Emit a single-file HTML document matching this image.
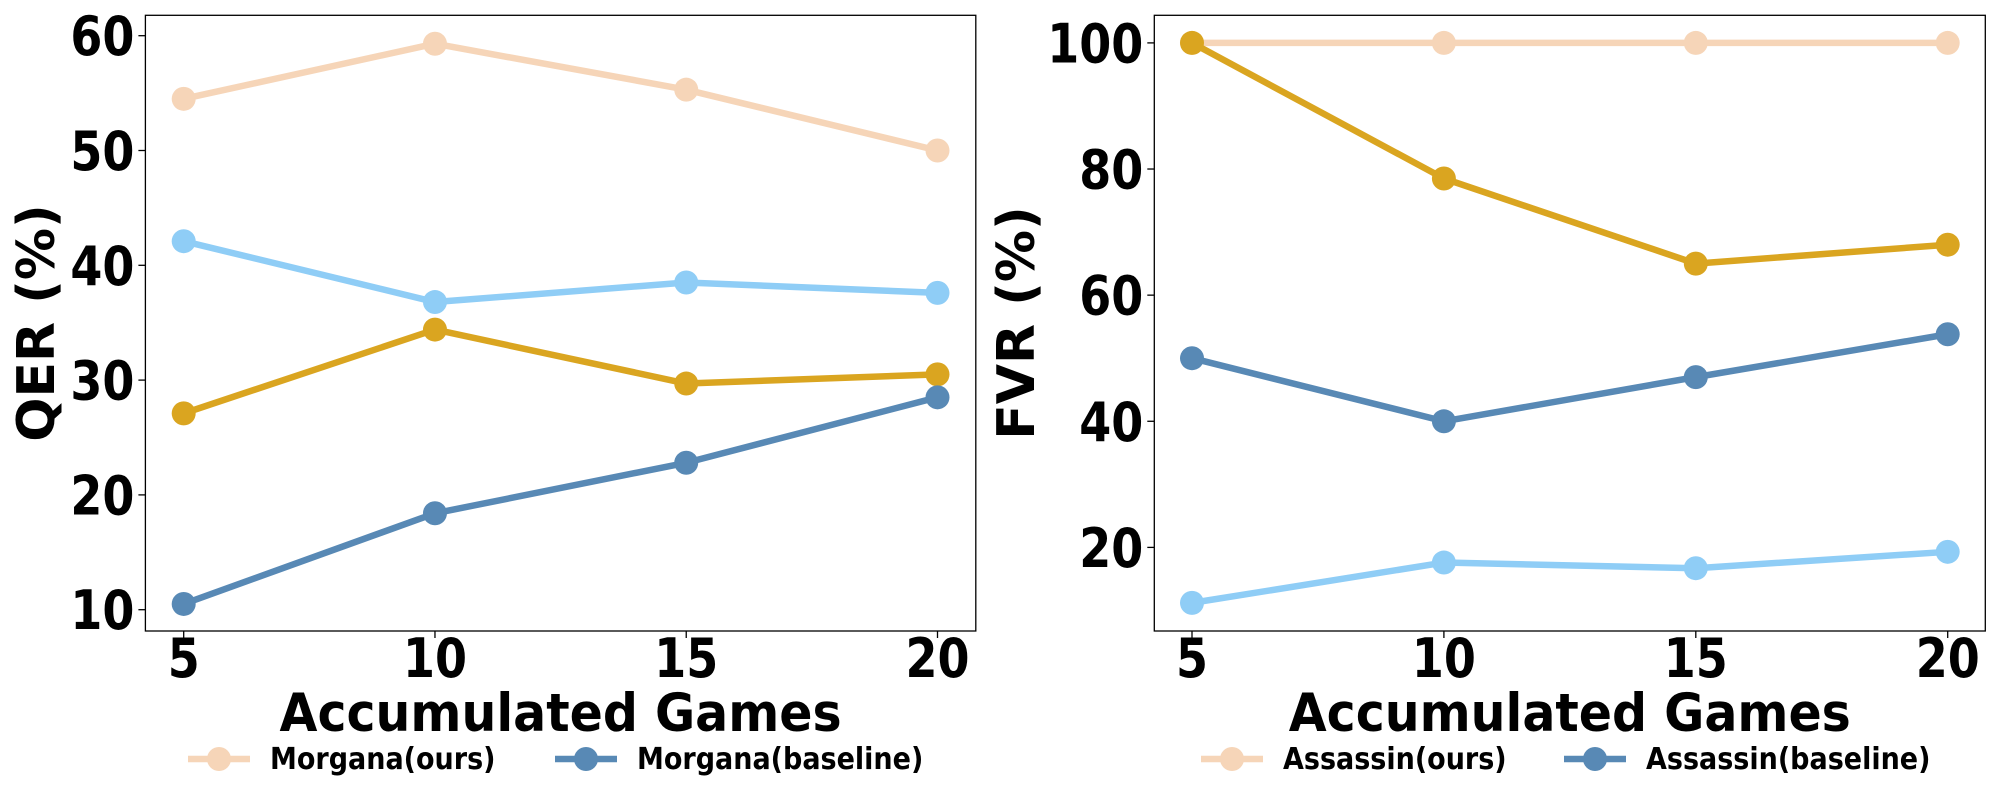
<!DOCTYPE html>
<html><head><meta charset="utf-8">
<style>
html,body{margin:0;padding:0;background:#fff;}
svg{display:block;font-family:"DejaVu Sans","Liberation Sans",sans-serif;font-weight:bold;}
</style></head>
<body>
<svg id="chart" width="2000" height="800" viewBox="0 0 2000 800" xmlns="http://www.w3.org/2000/svg"></svg>
<script>
const categories = [5, 10, 15, 20];
const qerMorganaOurs = [54.5, 59.3, 55.3, 50.0];
const qerLightSeries = [42.1, 36.8, 38.5, 37.6];
const qerGoldSeries = [27.1, 34.4, 29.7, 30.5];
const qerMorganaBaseline = [10.5, 18.4, 22.8, 28.5];
const fvrAssassinOurs = [100, 100, 100, 100];
const fvrGoldSeries = [100, 78.5, 65, 68];
const fvrAssassinBaseline = [50, 40, 47, 53.8];
const fvrLightSeries = [11.2, 17.6, 16.7, 19.3];
const qerTicks = [10, 20, 30, 40, 50, 60];
const fvrTicks = [20, 40, 60, 80, 100];

const NS = "http://www.w3.org/2000/svg";
const svg = document.getElementById("chart");
function mk(tag, attrs, parent) {
  const e = document.createElementNS(NS, tag);
  for (const k in attrs) e.setAttribute(k, attrs[k]);
  (parent || svg).appendChild(e);
  return e;
}
const C = {peach:"#F6D5B8", light:"#8FCDF6", gold:"#DAA520", steel:"#5889B5"};

function panel(cfg) {
  const g = mk("g", {});
  
  
  const xs = v => cfg.x5 + (v - 5) / 15 * (cfg.x20 - cfg.x5);
  const ys = v => cfg.yB - (v - cfg.vB) / (cfg.vT - cfg.vB) * (cfg.yB - cfg.yT);
  const frame = mk("rect", {x:cfg.L, y:15.3, width:cfg.R-cfg.L, height:631-15.3, fill:"none", stroke:"#000", "stroke-width":1.3}, g);
  
  
  categories.forEach(c => {
    const x = xs(c);
    const t = mk("line", {x1:x, x2:x, y1:631, y2:638, stroke:"#000", "stroke-width":1.3}, g);
    
    
    const tx = mk("text", {x:0, y:0, "text-anchor":"middle", "font-size":46, transform:`translate(${x},677) scale(1,1.18)`}, g);
    tx.textContent = c;
    
    
  });
  cfg.ticks.forEach(v => {
    const y = ys(v);
    const t = mk("line", {x1:cfg.L-7, x2:cfg.L, y1:y, y2:y, stroke:"#000", "stroke-width":1.3}, g);
    
    
    const tx = mk("text", {x:0, y:0, "text-anchor":"end", "font-size":46, transform:`translate(${cfg.L-11},${y+19.5}) scale(1,1.18)`}, g);
    tx.textContent = v;
    
    
  });
  cfg.series.forEach(s => {
    const sg = mk("g", {}, g);
    
    
    const pts = s.data.map((v, i) => xs(categories[i]) + "," + ys(v)).join(" ");
    const pl = mk("polyline", {points:pts, fill:"none", stroke:s.color, "stroke-width":6.5, "stroke-linejoin":"round"}, sg);
    
    
    s.data.forEach((v, i) => {
      const c = mk("circle", {cx:xs(categories[i]), cy:ys(v), r:12, fill:s.color}, sg);
      
      
    });
  });
  const xl = mk("text", {x:0, y:0, "text-anchor":"middle", "font-size":49, transform:`translate(${(cfg.L+cfg.R)/2},731) scale(1,1.08)`}, g);
  xl.textContent = "Accumulated Games";
  
  
  const yl = mk("text", {x:0, y:0, "text-anchor":"middle", "font-size":52, transform:`translate(${cfg.ylx},323) rotate(-90)`}, g);
  yl.textContent = cfg.ylabel;
  
  
  cfg.legend.forEach(l => {
    const lg = mk("g", {}, g);
    
    
    mk("line", {x1:l.x, x2:l.x+62, y1:759, y2:759, stroke:l.color, "stroke-width":6.5}, lg);
    mk("circle", {cx:l.x+31, cy:759, r:12, fill:l.color}, lg);
    const t = mk("text", {x:0, y:0, "font-size":27, transform:`translate(${l.x+82},769) scale(1,1.12)`}, lg);
    t.textContent = l.label;
  });
}

panel({name:"qer-panel", L:145.4, R:975.8, x5:183.7, x20:937.5, yB:609.7, vB:10, yT:35.7, vT:60,
  ticks:qerTicks, ylabel:"QER (%)", ylx:54,
  series:[{name:"qer-morgana-ours", data:qerMorganaOurs, color:C.peach},
          {name:"qer-light-series", data:qerLightSeries, color:C.light},
          {name:"qer-gold-series", data:qerGoldSeries, color:C.gold},
          {name:"qer-morgana-baseline", data:qerMorganaBaseline, color:C.steel}],
  legend:[{x:188, label:"Morgana(ours)", color:C.peach},{x:555, label:"Morgana(baseline)", color:C.steel}]});

panel({name:"fvr-panel", L:1154.3, R:1985.3, x5:1192, x20:1947.7, yB:547.4, vB:20, yT:42.9, vT:100,
  ticks:fvrTicks, ylabel:"FVR (%)", ylx:1034,
  series:[{name:"fvr-assassin-ours", data:fvrAssassinOurs, color:C.peach},
          {name:"fvr-gold-series", data:fvrGoldSeries, color:C.gold},
          {name:"fvr-assassin-baseline", data:fvrAssassinBaseline, color:C.steel},
          {name:"fvr-light-series", data:fvrLightSeries, color:C.light}],
  legend:[{x:1201, label:"Assassin(ours)", color:C.peach},{x:1564, label:"Assassin(baseline)", color:C.steel}]});
</script>
</body></html>
